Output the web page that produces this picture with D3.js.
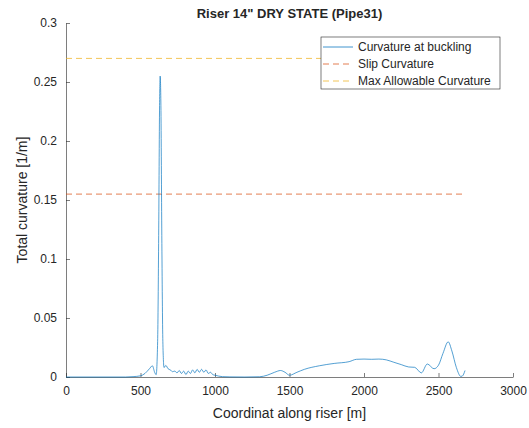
<!DOCTYPE html>
<html lang="en">
  <head>
    <meta charset="UTF-8" />
    <title>Riser 14" DRY STATE (Pipe31)</title>
    <script src="https://d3js.org/d3.v7.min.js"></script>
    <style>
      body { margin: 0; background: #fff; }
      text { font-family: "Liberation Sans", Arial, Helvetica, sans-serif; fill: #262626; }
    </style>
  </head>

  <body>
    <svg id="chart" width="529" height="428"></svg>
    <script>
      // curvature at buckling
      const coord = [0, 400, 450, 500, 530, 560, 580, 595, 605, 615, 622, 628, 632, 637, 643, 650, 658,
        670, 685, 700, 715, 730, 745, 760, 775, 790, 805, 820, 835, 850, 865, 880, 895, 910, 925, 940,
        955, 970, 985, 1000, 1050, 1100, 1200, 1300, 1350, 1400, 1440, 1470, 1500, 1550, 1600, 1700,
        1800, 1900, 1950, 2000, 2050, 2100, 2150, 2200, 2250, 2300, 2340, 2385, 2425, 2470, 2500, 2530,
        2565, 2590, 2620, 2650, 2660, 2678];
      const curvature = [0, 0, 0.0003, 0.001, 0.003, 0.007, 0.0095, 0.004, 0.002, 0.03, 0.12, 0.23, 0.255,
        0.23, 0.12, 0.03, 0.008, 0.0098, 0.007, 0.006, 0.0045, 0.005, 0.0035, 0.0055, 0.003, 0.005, 0.002,
        0.005, 0.003, 0.006, 0.0035, 0.0065, 0.004, 0.0065, 0.004, 0.006, 0.003, 0.004, 0.002, 0.0015,
        0.0003, 0.0001, 0, 0.0002, 0.0015, 0.004, 0.0055, 0.004, 0.0015, 0.004, 0.0065, 0.0095, 0.0115,
        0.013, 0.015, 0.0152, 0.015, 0.0152, 0.0145, 0.0125, 0.0105, 0.0085, 0.0082, 0.0035, 0.011, 0.007,
        0.01, 0.02, 0.0298, 0.022, 0.008, 0.0005, 0.0008, 0.0055];

      const slipCurvature = 0.155;
      const maxCurvature = 0.27;
      const limitRange = [0, 2678];

      const xTicks = [0, 500, 1000, 1500, 2000, 2500, 3000];
      const yTicks = [0, 0.05, 0.1, 0.15, 0.2, 0.25, 0.3];

      const legendLabels = ["Curvature at buckling", "Slip Curvature", "Max Allowable Curvature"];
      const colors = ["#0072BD", "#D95319", "#EDB120"];

      const svg = d3.select("#chart");
      const margin = { top: 23, right: 16, bottom: 51, left: 66 };
      const width = +svg.attr("width") - margin.left - margin.right;
      const height = +svg.attr("height") - margin.top - margin.bottom;
      const g = svg.append("g").attr("transform", "translate(" + margin.left + "," + margin.top + ")");

      const x = d3.scaleLinear().domain([0, 3000]).range([0, width]);
      const y = d3.scaleLinear().domain([0, 0.3]).range([height, 0]);

      const xAxis = g.append("g")
        .attr("transform", "translate(0," + height + ")")
        .call(d3.axisBottom(x).tickValues(xTicks).tickFormat(d3.format("d")).tickSizeInner(-4).tickSizeOuter(0).tickPadding(9));
      const yAxis = g.append("g")
        .call(d3.axisLeft(y).tickValues(yTicks).tickFormat(d3.format("~g")).tickSizeInner(-4).tickSizeOuter(0).tickPadding(9));
      [xAxis, yAxis].forEach((a) => {
        a.selectAll("path, line").attr("stroke", "#262626").attr("stroke-width", 0.6);
        a.selectAll("text").style("font-size", "12px").attr("fill", "#262626");
      });

      // limit lines
      [slipCurvature, maxCurvature].forEach((v, i) => {
        g.append("line")
          .attr("x1", x(limitRange[0])).attr("x2", x(limitRange[1]))
          .attr("y1", y(v)).attr("y2", y(v))
          .attr("stroke", colors[i + 1]).attr("stroke-width", 1)
          .attr("stroke-opacity", 0.75)
          .attr("stroke-dasharray", "6,4");
      });

      const pts = coord.map((c, i) => [c, curvature[i]]);
      const line = d3.line().x((d) => x(d[0])).y((d) => y(d[1])).curve(d3.curveMonotoneX);
      g.append("path")
        .datum(pts)
        .attr("fill", "none")
        .attr("stroke", colors[0])
        .attr("stroke-opacity", 0.75)
        .attr("stroke-width", 0.9)
        .attr("d", line);

      // title and labels
      svg.append("text")
        .attr("x", margin.left + width / 2).attr("y", 18)
        .attr("text-anchor", "middle")
        .style("font-size", "13px").style("font-weight", "bold")
        .attr("fill", "#000")
        .text('Riser 14" DRY STATE (Pipe31)');
      svg.append("text")
        .attr("x", margin.left + width / 2).attr("y", 418)
        .attr("text-anchor", "middle")
        .style("font-size", "14px")
        .text("Coordinat along riser [m]");
      svg.append("text")
        .attr("transform", "translate(27," + (margin.top + height / 2) + ") rotate(-90)")
        .attr("text-anchor", "middle")
        .style("font-size", "14px")
        .text("Total curvature [1/m]");

      // legend
      const legend = svg.append("g").attr("transform", "translate(321,37)");
      legend.append("rect")
        .attr("width", 179).attr("height", 52)
        .attr("fill", "#fff").attr("stroke", "#262626").attr("stroke-width", 0.6);
      legendLabels.forEach((lab, i) => {
        const ly = 10 + i * 17;
        legend.append("line")
          .attr("x1", 2).attr("x2", 32).attr("y1", ly).attr("y2", ly)
          .attr("stroke", colors[i]).attr("stroke-width", 1).attr("stroke-opacity", 0.75)
          .attr("stroke-dasharray", i === 0 ? null : "6,4");
        legend.append("text")
          .attr("x", 37).attr("y", ly + 4)
          .style("font-size", "12px")
          .text(lab);
      });
    </script>
  </body>
</html>
